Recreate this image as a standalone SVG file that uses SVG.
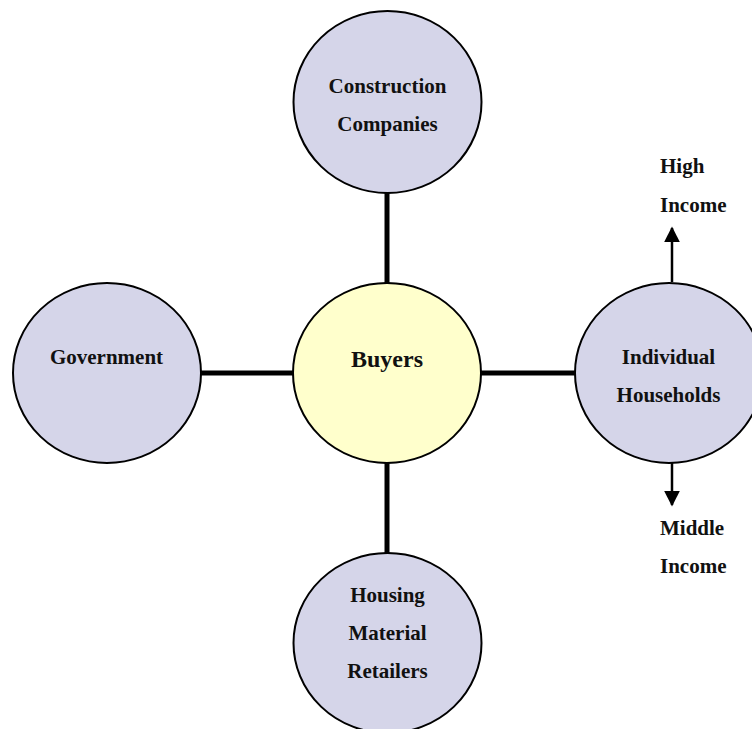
<svg xmlns="http://www.w3.org/2000/svg" width="752" height="729" viewBox="0 0 752 729">
<defs>
<style>
.node{fill:#D5D5E9;stroke:#000;stroke-width:2}
.hub{fill:#FFFFCC;stroke:#000;stroke-width:2}
.t{font-family:"Liberation Serif","Times New Roman",serif;font-weight:bold;font-size:21px;fill:#111;text-anchor:middle}
.big{font-size:24px}
.lab{text-anchor:start}
.conn{stroke:#000;stroke-width:5;fill:none}
.arr{stroke:#000;stroke-width:2.5;fill:none}
</style>
<marker id="ah" viewBox="0 0 10 10" refX="9" refY="5" markerWidth="6.4" markerHeight="6.4" markerUnits="strokeWidth" orient="auto">
<path d="M0,0 L10,5 L0,10 z" fill="#000"/>
</marker>
</defs>
<g id="connectors">
<line class="conn" x1="387" y1="192" x2="387" y2="284"/>
<line class="conn" x1="387" y1="462" x2="387" y2="554"/>
<line class="conn" x1="200" y1="373" x2="294" y2="373"/>
<line class="conn" x1="480" y1="373" x2="576" y2="373"/>
<line class="arr" x1="672" y1="282" x2="672" y2="228" marker-end="url(#ah)"/>
<line class="arr" x1="672" y1="463" x2="672" y2="505" marker-end="url(#ah)"/>
</g>
<g id="construction">
<ellipse class="node" cx="387.5" cy="102" rx="94" ry="91"/>
<text class="t" x="387.5" y="93">Construction</text>
<text class="t" x="387.5" y="130.5">Companies</text>
</g>
<g id="buyers">
<ellipse class="hub" cx="387" cy="373" rx="94" ry="90"/>
<text class="t big" x="387" y="367">Buyers</text>
</g>
<g id="government">
<ellipse class="node" cx="107" cy="373" rx="94" ry="90"/>
<text class="t" x="106.5" y="364">Government</text>
</g>
<g id="households">
<ellipse class="node" cx="669" cy="373" rx="94" ry="90"/>
<text class="t" x="668.5" y="364">Individual</text>
<text class="t" x="668.5" y="401.5">Households</text>
</g>
<g id="retailers">
<ellipse class="node" cx="387.5" cy="643" rx="94" ry="90"/>
<text class="t" x="387.5" y="602">Housing</text>
<text class="t" x="387.5" y="640">Material</text>
<text class="t" x="387.5" y="677.5">Retailers</text>
</g>
<g id="high-income">
<text class="t lab" x="660" y="173">High</text>
<text class="t lab" x="660" y="211.5">Income</text>
</g>
<g id="middle-income">
<text class="t lab" x="660" y="535">Middle</text>
<text class="t lab" x="660" y="573">Income</text>
</g>
</svg>
